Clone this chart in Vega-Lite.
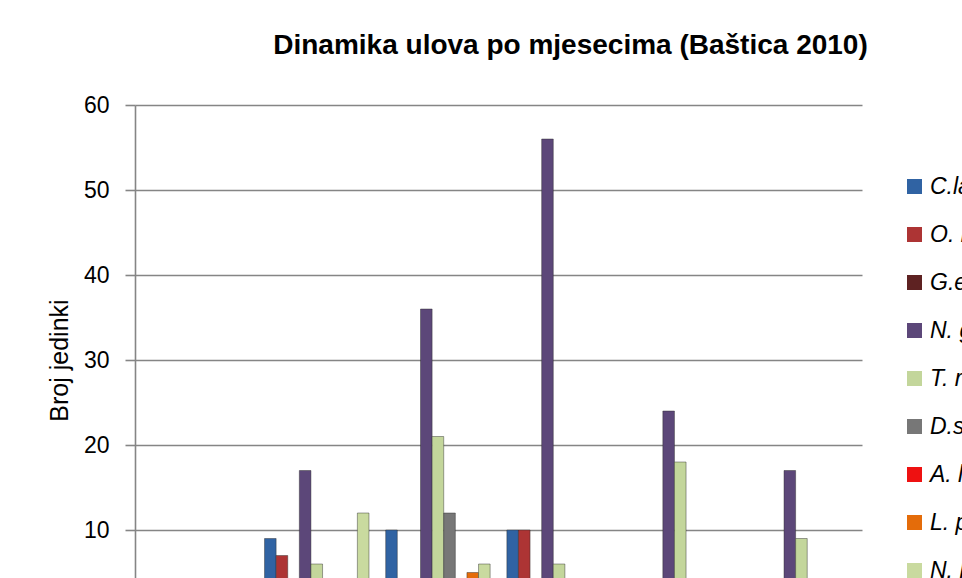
{
  "$schema": "https://vega.github.io/schema/vega-lite/v6.json",
  "autosize": {"type": "none"},
  "width": 727,
  "height": 510,
  "padding": {"left": 135, "top": 105, "right": 100, "bottom": -37},
  "background": "white",
  "title": {
    "text": "Dinamika ulova po mjesecima (Baštica 2010)",
    "font": "Liberation Sans",
    "fontSize": 28,
    "fontWeight": "bold",
    "color": "#000000",
    "anchor": "middle",
    "dx": 72,
    "offset": 34
  },
  "data": {
    "values": [
      {"mjesec": "travanj", "vrsta": "C.la", "broj": 0},
      {"mjesec": "travanj", "vrsta": "O. m", "broj": 0},
      {"mjesec": "travanj", "vrsta": "G.e", "broj": 0},
      {"mjesec": "travanj", "vrsta": "N. g", "broj": 0},
      {"mjesec": "travanj", "vrsta": "T. r", "broj": 0},
      {"mjesec": "travanj", "vrsta": "D.s", "broj": 0},
      {"mjesec": "travanj", "vrsta": "A. l", "broj": 0},
      {"mjesec": "travanj", "vrsta": "L. p", "broj": 0},
      {"mjesec": "travanj", "vrsta": "N. l", "broj": 0},
      {"mjesec": "svibanj", "vrsta": "C.la", "broj": 9},
      {"mjesec": "svibanj", "vrsta": "O. m", "broj": 7},
      {"mjesec": "svibanj", "vrsta": "G.e", "broj": 0},
      {"mjesec": "svibanj", "vrsta": "N. g", "broj": 17},
      {"mjesec": "svibanj", "vrsta": "T. r", "broj": 6},
      {"mjesec": "svibanj", "vrsta": "D.s", "broj": 0},
      {"mjesec": "svibanj", "vrsta": "A. l", "broj": 0},
      {"mjesec": "svibanj", "vrsta": "L. p", "broj": 0},
      {"mjesec": "svibanj", "vrsta": "N. l", "broj": 12},
      {"mjesec": "lipanj", "vrsta": "C.la", "broj": 10},
      {"mjesec": "lipanj", "vrsta": "O. m", "broj": 0},
      {"mjesec": "lipanj", "vrsta": "G.e", "broj": 0},
      {"mjesec": "lipanj", "vrsta": "N. g", "broj": 36},
      {"mjesec": "lipanj", "vrsta": "T. r", "broj": 21},
      {"mjesec": "lipanj", "vrsta": "D.s", "broj": 12},
      {"mjesec": "lipanj", "vrsta": "A. l", "broj": 0},
      {"mjesec": "lipanj", "vrsta": "L. p", "broj": 5},
      {"mjesec": "lipanj", "vrsta": "N. l", "broj": 6},
      {"mjesec": "srpanj", "vrsta": "C.la", "broj": 10},
      {"mjesec": "srpanj", "vrsta": "O. m", "broj": 10},
      {"mjesec": "srpanj", "vrsta": "G.e", "broj": 0},
      {"mjesec": "srpanj", "vrsta": "N. g", "broj": 56},
      {"mjesec": "srpanj", "vrsta": "T. r", "broj": 6},
      {"mjesec": "srpanj", "vrsta": "D.s", "broj": 0},
      {"mjesec": "srpanj", "vrsta": "A. l", "broj": 0},
      {"mjesec": "srpanj", "vrsta": "L. p", "broj": 0},
      {"mjesec": "srpanj", "vrsta": "N. l", "broj": 0},
      {"mjesec": "kolovoz", "vrsta": "C.la", "broj": 0},
      {"mjesec": "kolovoz", "vrsta": "O. m", "broj": 0},
      {"mjesec": "kolovoz", "vrsta": "G.e", "broj": 0},
      {"mjesec": "kolovoz", "vrsta": "N. g", "broj": 24},
      {"mjesec": "kolovoz", "vrsta": "T. r", "broj": 18},
      {"mjesec": "kolovoz", "vrsta": "D.s", "broj": 0},
      {"mjesec": "kolovoz", "vrsta": "A. l", "broj": 0},
      {"mjesec": "kolovoz", "vrsta": "L. p", "broj": 0},
      {"mjesec": "kolovoz", "vrsta": "N. l", "broj": 0},
      {"mjesec": "rujan", "vrsta": "C.la", "broj": 0},
      {"mjesec": "rujan", "vrsta": "O. m", "broj": 0},
      {"mjesec": "rujan", "vrsta": "G.e", "broj": 0},
      {"mjesec": "rujan", "vrsta": "N. g", "broj": 17},
      {"mjesec": "rujan", "vrsta": "T. r", "broj": 9},
      {"mjesec": "rujan", "vrsta": "D.s", "broj": 0},
      {"mjesec": "rujan", "vrsta": "A. l", "broj": 0},
      {"mjesec": "rujan", "vrsta": "L. p", "broj": 0},
      {"mjesec": "rujan", "vrsta": "N. l", "broj": 0}
    ]
  },
  "mark": {"type": "bar", "stroke": "#2a2a2a", "strokeWidth": 0.8, "strokeOpacity": 0.55},
  "encoding": {
    "x": {
      "field": "mjesec",
      "type": "nominal",
      "sort": ["travanj", "svibanj", "lipanj", "srpanj", "kolovoz", "rujan"],
      "scale": {"paddingInner": 0.138, "paddingOuter": 0.069},
      "axis": null
    },
    "xOffset": {
      "field": "vrsta",
      "type": "nominal",
      "sort": ["C.la", "O. m", "G.e", "N. g", "T. r", "D.s", "A. l", "L. p", "N. l"],
      "scale": {"paddingInner": 0, "paddingOuter": 0}
    },
    "y": {
      "field": "broj",
      "type": "quantitative",
      "scale": {"domain": [0, 60], "nice": false},
      "axis": {
        "title": "Broj jedinki",
        "values": [10, 20, 30, 40, 50, 60],
        "titleFont": "Liberation Sans",
        "titleFontSize": 25,
        "titleFontWeight": "normal",
        "titleColor": "#000000",
        "titlePadding": 11,
        "labelFont": "Liberation Sans",
        "labelFontSize": 23,
        "labelColor": "#000000",
        "labelPadding": 16,
        "tickSize": 10,
        "tickColor": "#858585",
        "tickWidth": 1.6,
        "domainColor": "#858585",
        "domainWidth": 1.6,
        "gridColor": "#858585",
        "gridWidth": 1.6,
        "gridOpacity": 1
      }
    },
    "color": {
      "field": "vrsta",
      "type": "nominal",
      "scale": {
        "domain": ["C.la", "O. m", "G.e", "N. g", "T. r", "D.s", "A. l", "L. p", "N. l"],
        "range": ["#3063a3", "#ad3434", "#5e2222", "#5c4779", "#c3d69b", "#777777", "#ee1111", "#e46c0a", "#c9da9f"]
      },
      "legend": {
        "title": null,
        "orient": "none",
        "legendX": 768,
        "legendY": 70,
        "padding": 0,
        "symbolType": "square",
        "symbolSize": 225,
        "symbolStrokeWidth": 0,
        "symbolOpacity": 1,
        "rowPadding": 24,
        "labelOffset": 4,
        "labelFont": "Liberation Sans",
        "labelFontSize": 23,
        "labelFontStyle": "italic",
        "labelColor": "#000000",
        "labelLimit": 400
      }
    }
  },
  "config": {
    "view": {"stroke": null},
    "axis": {"grid": true}
  }
}
